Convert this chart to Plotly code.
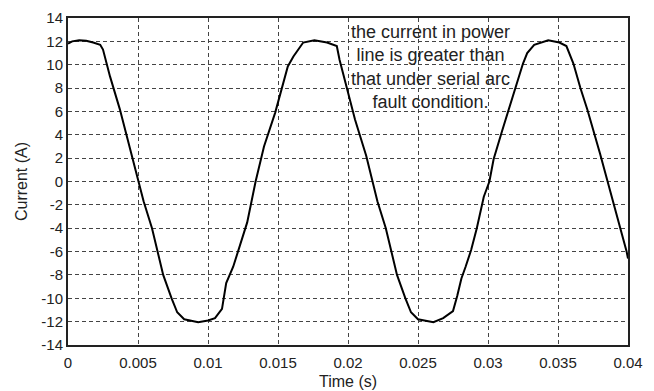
import plotly.graph_objects as go

time_s = [0.0000, 0.0003, 0.0008, 0.0013, 0.0018, 0.0023, 0.0025, 0.0027, 0.0030, 0.0037,
          0.0044, 0.0050, 0.0054, 0.0060, 0.0064, 0.0068, 0.0074, 0.0078, 0.0083, 0.0093,
          0.0100, 0.0105, 0.0110, 0.0113, 0.0118, 0.0122, 0.0128, 0.0134, 0.0140, 0.0148,
          0.0153, 0.0157, 0.0161, 0.0166, 0.0168, 0.0176, 0.0185, 0.0192, 0.0194, 0.0199,
          0.0205, 0.0213, 0.0217, 0.0221, 0.0227, 0.0231, 0.0235, 0.0241, 0.0245, 0.0250,
          0.0261, 0.0268, 0.0275, 0.0278, 0.0281, 0.0284, 0.0288, 0.0292, 0.0297, 0.0301,
          0.0304, 0.0310, 0.0316, 0.0321, 0.0325, 0.0328, 0.0333, 0.0343, 0.0351, 0.0356,
          0.0361, 0.0366, 0.0371, 0.0380, 0.0386, 0.0393, 0.0399, 0.0400]
current_a = [11.8, 12.0, 12.1, 12.05, 11.9, 11.7, 11.3, 10.3, 9.0, 6.2,
             3.0, 0.3, -1.7, -4.0, -6.0, -8.0, -10.0, -11.2, -11.8, -12.05,
             -11.9, -11.7, -10.9, -8.7, -7.3, -5.8, -3.5, 0.0, 3.0, 5.9,
             8.0, 9.85, 10.7, 11.6, 11.9, 12.1, 11.9, 11.6, 10.4, 8.1,
             5.3, 2.2, 0.3, -1.7, -4.0, -6.0, -8.0, -10.0, -11.2, -11.8,
             -12.05, -11.7, -11.1, -9.8, -8.3, -7.3, -5.85, -4.0, -1.3, 0.0,
             1.9, 4.3, 6.7, 8.7, 10.1, 11.0, 11.7, 12.1, 11.9, 11.6,
             10.1, 8.0, 6.15, 2.4, -0.2, -3.3, -6.0, -6.6]

x_ticks = [0, 0.005, 0.01, 0.015, 0.02, 0.025, 0.03, 0.035, 0.04]
x_tick_labels = ["0", "0.005", "0.01", "0.015", "0.02", "0.025", "0.03", "0.035", "0.04"]
y_ticks = list(range(-14, 15, 2))
y_tick_labels = [str(v) for v in y_ticks]

note_lines = ["the current in power", "line is greater than",
              "that under serial arc", "fault condition."]

FAM = "Liberation Sans, Arial, sans-serif"

fig = go.Figure()
fig.add_trace(go.Scatter(x=time_s, y=current_a, mode="lines",
                         line=dict(color="black", width=2), showlegend=False))

fig.update_layout(
    width=654, height=391,
    margin=dict(l=68, r=26, t=18, b=46),
    paper_bgcolor="white", plot_bgcolor="white",
    font=dict(family=FAM, size=15, color="#222"),
    xaxis=dict(range=[0, 0.04], tickvals=x_ticks, ticktext=x_tick_labels,
               showgrid=True, gridcolor="#444", griddash="4px,3px", gridwidth=1,
               showline=True, linecolor="#222", linewidth=2, mirror=True,
               ticks="", zeroline=False, tickfont=dict(size=15), ticklabelstandoff=3,
               automargin=False,
               title=dict(text="Time (s)", standoff=6, font=dict(size=16))),
    yaxis=dict(range=[-14, 14], tickvals=y_ticks, ticktext=y_tick_labels,
               showgrid=True, gridcolor="#444", griddash="4px,3px", gridwidth=1,
               showline=True, linecolor="#222", linewidth=2, mirror=True,
               ticks="", zeroline=False, tickfont=dict(size=15),
               automargin=False,
               title=dict(text="Current (A)", standoff=10, font=dict(size=16))),
)

fig.add_annotation(x=0.0259, y=13.8, xref="x", yref="y",
                   text="<br>".join(note_lines), showarrow=False,
                   font=dict(family=FAM, size=18, color="#222"),
                   align="center", xanchor="center", yanchor="top")

fig.write_html("out.html")
